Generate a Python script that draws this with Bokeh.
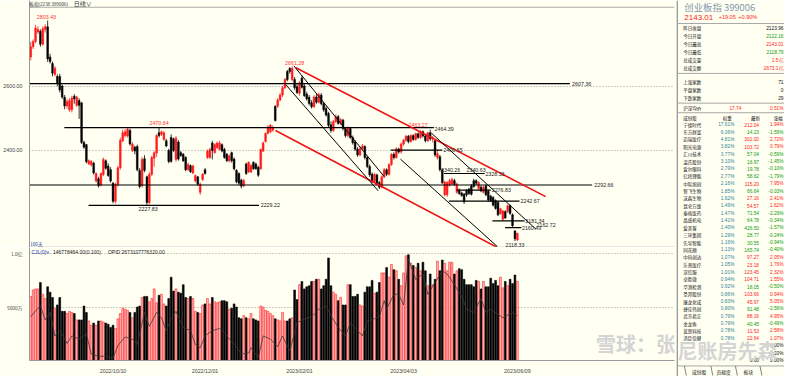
from bokeh.plotting import figure
from bokeh.layouts import row, column
from bokeh.models import ColumnDataSource, FixedTicker, Range1d, Label, Span
from bokeh.embed import file_html
from bokeh.resources import INLINE
from bokeh.core.properties import value

# ---------------- data ----------------
opens = [2690,2722,2738,2768,2770,2730,2776,2784,2690,2670,
         2636,2630,2630,2600,2565,2538,2526,2526,2568,2540,
         2555,2548,2425,2418,2358,2355,2360,2305,2312,2293,
         2325,2368,2352,2340,2298,2242,2294,2346,2430,2446,
         2445,2462,2400,2410,2412,2338,2290,2374,2318,2238,
         2326,2376,2392,2455,2450,2434,2430,2400,2440,2436,
         2372,2426,2393,2388,2378,2340,2353,2330,2305,2318,
         2270,2310,2340,2378,2378,2423,2393,2408,2403,2418,
         2403,2388,2368,2393,2373,2338,2328,2308,2290,2358,
         2333,2333,2363,2358,2348,2343,2398,2428,2453,2458,
         2463,2537,2537,2557,2572,2595,2645,2655,2620,2620,
         2598,2578,2625,2600,2575,2565,2548,2536,2566,2550,
         2572,2545,2530,2515,2480,2462,2490,2505,2484,2494,
         2468,2446,2468,2440,2426,2404,2386,2405,2412,2378,
         2350,2326,2304,2324,2300,2286,2318,2340,2326,2356,
         2388,2378,2404,2395,2420,2432,2444,2428,2446,2434,
         2452,2440,2458,2445,2430,2455,2436,2430,2378,2380,
         2340,2262,2262,2292,2296,2306,2270,2276,2268,2264,
         2276,2280,2290,2306,2306,2282,2286,2270,2290,2273,
         2258,2254,2244,2239,2204,2186,2210,2210,2228,2200,
         2150,2122.16]
highs = [2737,2745,2790,2786,2776,2786,2792,2803.43,2700,2676,
         2662,2636,2638,2605,2572,2560,2562,2570,2575,2570,
         2562,2550,2430,2420,2372,2370,2365,2332,2318,2332,
         2378,2372,2360,2348,2302,2300,2352,2440,2465,2466,
         2472,2468,2426,2415,2418,2345,2380,2385,2322,2332,
         2384,2398,2450,2470.64,2462,2460,2436,2405,2450,2440,
         2445,2432,2398,2392,2382,2362,2356,2356,2325,2320,
         2300,2330,2345,2403,2408,2430,2422,2428,2430,2422,
         2408,2392,2388,2396,2378,2342,2332,2312,2312,2362,
         2366,2358,2366,2362,2352,2406,2428,2456,2478,2482,
         2478,2540,2562,2578,2600,2625,2650,2658,2661.28,2628,
         2610,2615,2632,2606,2582,2572,2556,2572,2575,2580,
         2578,2550,2538,2520,2490,2495,2512,2510,2500,2498,
         2472,2475,2472,2446,2432,2410,2412,2420,2416,2382,
         2356,2332,2330,2328,2305,2322,2345,2344,2360,2392,
         2394,2410,2408,2425,2436,2448,2448,2450,2450,2455,
         2456,2463.27,2462,2450,2458,2464.39,2445,2434,2400,2386,
         2342,2306,2305,2312,2316,2312,2300,2282,2272,2268,
         2280,2284,2296,2312,2310,2304,2292,2290,2294,2278,
         2262,2258,2248,2242,2222,2216,2214,2232,2232,2204,
         2152,2143.01]
lows = [2680,2715,2733,2762,2722,2725,2766,2675,2670,2630,
        2630,2600,2580,2560,2528,2530,2520,2518,2545,2535,
        2498,2420,2405,2360,2355,2350,2325,2300,2285,2288,
        2320,2340,2318,2300,2236,2235,2288,2340,2425,2440,
        2440,2415,2395,2388,2335,2282,2285,2332,2227.83,2232,
        2320,2350,2380,2440,2445,2430,2410,2360,2362,2395,
        2365,2368,2380,2364,2335,2336,2330,2326,2300,2290,
        2262,2305,2325,2374,2374,2372,2390,2405,2400,2394,
        2374,2364,2362,2362,2338,2298,2292,2282,2286,2324,
        2330,2330,2340,2340,2318,2340,2395,2424,2450,2454,
        2458,2490,2532,2552,2566,2590,2615,2638,2615,2588,
        2575,2570,2592,2566,2555,2540,2530,2532,2545,2546,
        2540,2520,2505,2470,2455,2458,2485,2480,2478,2462,
        2440,2440,2436,2418,2398,2380,2382,2400,2372,2345,
        2318,2298,2300,2292,2280,2282,2314,2320,2322,2352,
        2372,2374,2390,2390,2414,2426,2422,2424,2430,2430,
        2436,2436,2440,2425,2426,2430,2425,2380,2372,2335,
        2296,2258,2256,2288,2292,2290,2266,2262,2256,2234,
        2256,2262,2260,2284,2292,2276,2270,2266,2258,2240,
        2240,2226,2216,2196,2200,2182,2188,2206,2200,2162,
        2118.33,2118.79]
closes = [2722,2738,2780,2776,2730,2778,2784,2684,2676,2640,
          2655,2610,2588,2566,2538,2552,2555,2563,2560,2566,
          2540,2425,2410,2365,2368,2366,2330,2328,2290,2328,
          2372,2345,2322,2305,2242,2294,2346,2432,2455,2458,
          2466,2420,2420,2398,2340,2288,2372,2338,2238,2326,
          2378,2393,2446,2446,2458,2455,2414,2366,2366,2400,
          2438,2373,2384,2368,2340,2356,2334,2352,2322,2295,
          2296,2326,2328,2398,2403,2400,2418,2423,2423,2398,
          2378,2368,2383,2368,2343,2303,2298,2289,2306,2328,
          2363,2353,2343,2343,2323,2403,2423,2453,2473,2478,
          2470,2493,2557,2572,2595,2620,2620,2645,2655,2595,
          2580,2610,2596,2570,2560,2546,2536,2566,2550,2574,
          2545,2526,2510,2478,2462,2490,2505,2484,2496,2468,
          2446,2470,2440,2424,2404,2386,2405,2414,2378,2350,
          2324,2304,2326,2298,2286,2318,2340,2326,2356,2388,
          2378,2405,2395,2420,2432,2444,2428,2446,2434,2452,
          2440,2458,2445,2430,2455,2436,2440,2386,2390,2340,
          2300,2302,2300,2306,2310,2294,2296,2266,2260,2240,
          2262,2266,2264,2288,2298,2300,2274,2286,2262,2246,
          2244,2230,2220,2200,2219,2212,2190,2228,2204,2166,
          2126,2143.01]
# volume, unit: 亿
volumes = [0.60,0.66,0.67,0.67,0.73,0.62,0.58,0.69,0.64,0.59,
           0.49,0.52,0.59,0.46,0.46,0.44,0.46,0.45,0.44,0.38,
           0.38,0.38,0.51,0.45,0.37,0.33,0.35,0.33,0.37,0.37,
           0.36,0.35,0.34,0.31,0.33,0.30,0.39,0.44,0.49,0.48,
           0.47,0.45,0.40,0.45,0.50,0.51,0.59,0.60,0.60,0.55,
           0.58,0.67,0.54,0.61,0.62,0.53,0.51,0.58,0.78,0.65,
           0.67,0.64,0.63,0.71,0.59,0.58,0.60,0.58,0.46,0.45,
           0.44,0.52,0.53,0.58,0.53,0.59,0.55,0.54,0.55,0.56,
           0.56,0.55,0.48,0.49,0.53,0.50,0.40,0.39,0.42,0.40,
           0.39,0.44,0.39,0.38,0.37,0.51,0.50,0.47,0.46,0.44,
           0.42,0.39,0.38,0.37,0.45,0.37,0.37,0.39,0.40,0.66,
           0.57,0.71,0.74,0.67,0.69,0.70,0.74,0.74,0.76,0.76,
           0.67,0.70,0.76,0.96,0.70,0.64,0.62,0.56,0.59,0.52,
           0.52,0.71,0.71,0.60,0.60,0.62,0.52,0.51,0.64,0.69,
           0.69,0.75,0.63,0.64,0.73,0.82,0.82,0.87,0.78,0.90,
           0.85,0.84,0.76,0.70,0.82,0.98,0.99,0.91,0.89,0.87,
           0.91,0.84,0.92,0.84,0.70,0.81,0.71,0.76,0.93,0.84,
           0.94,0.91,0.84,0.92,0.92,0.81,0.84,0.86,0.85,0.76,
           0.71,0.71,0.71,0.69,0.75,0.74,0.67,0.74,0.69,0.69,
           0.77,0.72,0.75,0.70,0.78,0.68,0.74,0.70,0.76,0.72,
           0.80,0.74]
# OPID indicator line read at sample bars (bar index, value in 亿)
opid_bars = [0,3,4,6,8,10,12,15,17,20,23,25,28,31,34,36,39,42,44,47,49,52,54,56,58,60,63,
             66,68,70,72,75,78,80,82,84,87,90,91,94,96,99,102,104,107,110,112,116,119,122,
             124,127,130,132,135,137,139,142,144,146,147,150,152,154,156,159,162,164,167,170,
             172,175,178,180,183,186,188,190,195,199,201]
opid_vals = [0.41,0.49,0.51,0.38,0.45,0.23,0.28,0.16,0.23,0.20,0.25,0.06,0.04,0.04,0.02,0.14,
             0.22,0.20,0.15,0.45,0.32,0.45,0.40,0.28,0.39,0.46,0.31,0.28,0.15,0.12,0.23,0.28,
             0.30,0.26,0.20,0.16,0.06,0.07,0.12,0.03,0.23,0.20,0.13,0.23,0.09,0.35,0.38,0.41,
             0.48,0.51,0.42,0.31,0.23,0.35,0.28,0.23,0.37,0.39,0.41,0.56,0.48,0.62,0.62,0.52,
             0.95,0.76,0.81,0.62,0.73,0.84,0.81,0.71,0.60,0.48,0.45,0.58,0.45,0.48,0.40,0.45,0.42]

date_ticks = [34, 72, 111, 154, 201]
date_labels = ["2022/10/10", "2022/12/01", "2023/02/01", "2023/04/03", "2023/06/09"]
price_ticks = [2400, 2600]
price_tick_labels = ["2400.00", "2600.00"]
vol_ticks = [0.5, 1.0]
vol_tick_labels = ["5000万", "1.0亿"]

# drawn support / resistance lines (price level, start bar, end bar)
level_prices = [2607.36, 2470.64, 2292.66, 2229.22, 2400.65, 2328.33, 2276.83, 2242.67, 2181.34, 2160.49]
level_start = [-0.5, 13.9, -0.5, 23.9, 148.7, 170.7, 175.9, 172.7, 190.7, 195.9]
level_end = [222.7, 166.5, 231.9, 94.3, 170.0, 187.5, 190.0, 201.9, 204.0, 202.7]
# trend channel lines (bar, price) -> (bar, price)
red_x0 = [109.5, 101.1]; red_y0 = [2656.7, 2462.0]
red_x1 = [212.7, 192.7]; red_y1 = [2256.7, 2098.5]
blk_x0 = [105.5, 108.7, 165.5, 152.7]; blk_y0 = [2603.0, 2662.7, 2453.7, 2373.0]
blk_x1 = [143.5, 145.9, 208.7, 192.7]; blk_y1 = [2274.6, 2319.4, 2155.2, 2101.5]

# quote panel
index_name = "创业板指"
index_code = "399006"
last_price = "2143.01"
change_abs = "+19.05"
change_pct = "+0.90%"
quote_labels = ["昨日收盘", "今日开盘", "今日最高", "今日最低", "总成交量", "总成交额"]
quote_values = ["2123.96", "2122.16", "2143.01", "2118.79", "1.5亿", "2673.1亿"]
breadth_labels = ["上涨家数", "平盘家数", "下跌家数"]
breadth_values = ["71", "0", "29"]
avg_label = "沪深均价"; avg_price = "17.74"; avg_pct = "0.51%"
stock_names = ["宁德时代","东方财富","迈瑞医疗","阳光电源","汇川技术","温氏股份","爱尔眼科","亿纬锂能",
               "中际旭创","智飞生物","沃森生物","昆仑万维","泰格医药","晶盛机电","爱美客","三环集团",
               "先导智能","同花顺","中科创达","乐普医疗","深信服","卓胜微","华测检测","圣邦股份",
               "康龙化成","捷佳伟创","北京君正","金龙鱼","蓝思科技","汤臣倍健","","",""]
stock_weights = ["17.61%","6.06%","4.81%","3.82%","3.77%","3.10%","2.79%","2.77%",
                 "2.16%","1.85%","1.62%","1.49%","1.47%","1.41%","1.40%","1.29%",
                 "1.16%","1.13%","1.07%","1.05%","1.01%","0.94%","0.92%","0.86%",
                 "0.83%","0.80%","0.79%","0.79%","0.78%","0.78%","","",""]
stock_prices = ["212.04","14.23","302.00","103.72","57.04","16.97","19.78","58.62",
                "115.20","66.64","27.16","54.57","71.54","64.78","426.50","28.77",
                "30.55","165.74","97.27","23.18","123.45","104.71","18.05","103.66",
                "45.97","91.48","88.16","40.45","11.53","22.64","","","0.00"]
stock_changes = [1.94,-1.59,2.72,0.79,-0.59,-1.45,-0.10,-1.79,
                 7.95,-0.03,2.41,1.62,-2.29,-0.34,-1.57,-0.24,
                 -0.94,-0.40,2.05,1.76,2.32,1.55,-0.50,0.94,
                 5.05,-2.56,4.95,-0.49,2.58,1.07,0.00,0.00,0.00]
tabs = ["成份股", "贡献度", "板块"]
watermark_left = "雪球：张"
watermark_right = "尼账房先森"

# ---------------- style ----------------
BG = "#fffff2"
UP = "#ff1a1a"
DN = "#000000"
GRN = "#119911"
TEAL = "#2f7f96"
NUM = "Liberation Sans"
CJK = "Noto Sans CJK SC"
GRID = "#9a9a9a"
WM = "#d4d4d4"
WM_SIZE = "20px"

n = len(closes)
xs = list(range(n))
is_up = [c >= o for o, c in zip(opens, closes)]
src = ColumnDataSource(dict(
    x=xs, h=highs, l=lows,
    top=[max(o, c) for o, c in zip(opens, closes)],
    bot=[min(o, c) for o, c in zip(opens, closes)],
    col=[UP if u else DN for u in is_up],
    vfill=["#ffc4c4" if u else DN for u in is_up],
    vol=volumes,
))

X0, X1 = -0.5, 265.9

# ---------------- price panel ----------------
p = figure(width=676, height=247, x_range=Range1d(X0, X1), y_range=Range1d(2098.5, 2865.7),
           output_backend="svg", toolbar_location=None, x_axis_location=None,
           min_border_left=22, min_border_right=2, min_border_top=0, min_border_bottom=0,
           background_fill_color=BG, border_fill_color=BG, outline_line_color=None)
p.yaxis.ticker = FixedTicker(ticks=price_ticks)
p.yaxis.major_label_overrides = {t: s for t, s in zip(price_ticks, price_tick_labels)}
p.yaxis.major_tick_line_color = None
p.yaxis.minor_tick_line_color = None
p.yaxis.axis_line_color = "#9a9a9a"
p.yaxis.major_label_text_font = NUM
p.yaxis.major_label_text_font_size = "5.3px"
p.yaxis.major_label_text_color = "#444444"
p.yaxis.major_label_standoff = 1
p.xgrid.visible = False
p.ygrid.ticker = FixedTicker(ticks=price_ticks)
p.ygrid.grid_line_color = GRID
p.ygrid.grid_line_dash = "1 2"

p.add_layout(Span(location=2844.8, dimension="width", line_color="#a8a8a8", line_width=1))
p.add_layout(Span(location=2099.3, dimension="width", line_color="#a8a8a8", line_width=1))

p.segment(x0="x", y0="h", x1="x", y1="l", color="col", line_width=0.8, source=src)
p.vbar(x="x", top="top", bottom="bot", width=0.72, fill_color="col", line_color="col",
       line_width=0.5, source=src)

p.segment(x0=level_start, y0=level_prices, x1=level_end, y1=level_prices,
          line_color="black", line_width=1.2)
p.segment(x0=red_x0, y0=red_y0, x1=red_x1, y1=red_y1, line_color="#ee1111", line_width=1.5)
p.segment(x0=blk_x0, y0=blk_y0, x1=blk_x1, y1=blk_y1, line_color="black", line_width=1.0)

def lab(fig, text, x, y, align="left", base="middle", color="#222222", size="5.3px", font=NUM, style="normal"):
    fig.add_layout(Label(x=x, y=y, text=text, text_align=align, text_baseline=base,
                         text_color=color, text_font_size=size, text_font=font,
                         text_font_style=style))

lab(p, "2607.36", 223.6, 2607.36)
lab(p, "2292.66", 232.8, 2292.66)
lab(p, "2229.22", 95.0, 2229.22)
lab(p, "2227.83", 48.5, 2223, "center", "top")
lab(p, "2470.64", 53.0, 2479, "center", "bottom", "#ff3333")
lab(p, "2803.43", 6.5, 2808, "center", "bottom", "#ff3333")
lab(p, "2661.28", 109.0, 2666, "center", "bottom", "#ff3333")
lab(p, "2463.27", 160.0, 2474, "center", "bottom", "#ff3333")
lab(p, "2464.39", 166.8, 2466)
lab(p, "2400.65", 170.5, 2402)
lab(p, "2340.26", 169.5, 2340)
lab(p, "2340.63", 180.0, 2340)
lab(p, "2328.33", 187.8, 2328.33)
lab(p, "2276.83", 190.4, 2276.83)
lab(p, "2242.67", 202.3, 2242.67)
lab(p, "2181.34", 204.3, 2181.34)
lab(p, "2160.49", 202.9, 2160.49)
lab(p, "2162.72", 208.9, 2168)
lab(p, "2118.33", 200.0, 2113, "center", "top")

# header
lab(p, "◇◇ " + index_name + "(2238 " + index_code + ")", -8.6, 2856, "left", "middle", "#333333", "4.6px", CJK)
lab(p, "日线∨", 17.8, 2856, "left", "middle", "#333333", "6px", CJK)
lab(p, "100天", -0.2, 2110, "left", "middle", "#2233aa", "4.6px", CJK)

# ---------------- volume panel ----------------
v = figure(width=676, height=129, x_range=p.x_range, y_range=Range1d(0, 1.058),
           output_backend="svg", toolbar_location=None,
           min_border_left=22, min_border_right=2, min_border_top=0, min_border_bottom=8,
           background_fill_color=BG, border_fill_color=BG, outline_line_color=None)
v.yaxis.ticker = FixedTicker(ticks=vol_ticks)
v.yaxis.major_label_overrides = {t: s for t, s in zip(vol_ticks, vol_tick_labels)}
v.yaxis.major_tick_line_color = None
v.yaxis.minor_tick_line_color = None
v.yaxis.axis_line_color = "#9a9a9a"
v.yaxis.major_label_text_font = CJK
v.yaxis.major_label_text_font_size = "4.8px"
v.yaxis.major_label_text_color = "#444444"
v.yaxis.major_label_standoff = 1
v.xaxis.ticker = FixedTicker(ticks=date_ticks)
v.xaxis.major_label_overrides = {t: s for t, s in zip(date_ticks, date_labels)}
v.xaxis.major_tick_line_color = None
v.xaxis.minor_tick_line_color = None
v.xaxis.axis_line_color = "#9a9a9a"
v.xaxis.major_label_text_font = NUM
v.xaxis.major_label_text_font_size = "5.3px"
v.xaxis.major_label_text_color = "#444444"
v.xaxis.major_label_standoff = 1
v.xgrid.visible = False
v.ygrid.ticker = FixedTicker(ticks=vol_ticks)
v.ygrid.grid_line_color = GRID
v.ygrid.grid_line_dash = "1 2"

v.vbar(x="x", top="vol", bottom=0, width=0.74, fill_color="vfill", line_color="col",
       line_width=0.6, source=src)
v.line(x=opid_bars, y=opid_vals, line_color="#3a3a3a", line_width=0.8)

lab(v, "CJL(0)∨", 0.3, 1.018, "left", "middle", "#2233aa", "5px")
lab(v, "146778464.00(0.100)", 9.2, 1.018, "left", "middle", "#222222", "5px")
lab(v, "OPID 2673107776320.00", 31.9, 1.018, "left", "middle", "#222222", "5px")

# watermark (left part)
lab(v, watermark_left, 233.5, 0.16, "left", "middle", WM, WM_SIZE, CJK, "bold")

# ---------------- info panel ----------------
q = figure(width=108, height=376, x_range=Range1d(0, 110), y_range=Range1d(392, 0),
           output_backend="svg", toolbar_location=None, x_axis_location=None, y_axis_location=None,
           min_border=0, background_fill_color=BG, border_fill_color=BG, outline_line_color=None)
q.grid.visible = False

q.segment(x0=[0.6], y0=[0], x1=[0.6], y1=[392], line_color="#555555", line_width=1)
sep_y = [24, 76, 107, 117, 381]
q.segment(x0=[0.6] * len(sep_y), y0=sep_y, x1=[110] * len(sep_y), y1=sep_y, line_color="#a8a8a8", line_width=1)

def qtext(xv, yv, texts, colors, size, align="left", font=CJK):
    q.text(x=xv, y=yv, text=texts, text_color=colors, text_font=value(font),
           text_font_size=value(size), text_align=align, text_baseline="middle")

qtext([8], [6.5], [index_name + " " + index_code], ["#8496ab"], "9.4px")
qtext([8], [17.5], [last_price], [UP], "8px", font=NUM)
qtext([43], [17.5], [change_abs], [UP], "5.5px", font=NUM)
qtext([63], [17.5], [change_pct], [UP], "5.5px", font=NUM)

prev_close = float(quote_values[0])
def qcolor(i, s):
    if i == 0:
        return "#111111"
    if i >= 4:
        return UP
    return UP if float(s) > prev_close else GRN

q_rows = [28.5 + 8.4 * i for i in range(len(quote_labels))]
qtext([7] * len(quote_labels), q_rows, quote_labels, ["#111111"] * len(quote_labels), "4.5px")
qtext([109] * len(quote_values), q_rows, quote_values,
      [qcolor(i, s) for i, s in enumerate(quote_values)], "4.8px", "right", NUM)

b_rows = [85 + 8.5 * i for i in range(len(breadth_labels))]
qtext([7] * 3, b_rows, breadth_labels, ["#111111"] * 3, "4.5px")
qtext([109] * 3, b_rows, breadth_values, ["#111111"] * 3, "4.8px", "right", NUM)

qtext([7], [112.5], [avg_label], ["#111111"], "4.5px")
qtext([60], [112.5], [avg_price], [UP], "4.8px", "center", NUM)
qtext([109], [112.5], [avg_pct], [UP], "4.8px", "right", NUM)

qtext([7, 47, 76, 99], [122.5] * 4, ["成份股", "权重", "最新", "涨幅"], ["#111111"] * 4, "4.5px", "left")

s_rows = [129.5 + 7.68 * i for i in range(len(stock_names))]
ns = len(stock_names)
s_cols = [UP if c > 0 else (GRN if c < 0 else "#111111") for c in stock_changes]
qtext([7] * ns, s_rows, stock_names, ["#111111"] * ns, "4.5px")
qtext([59] * ns, s_rows, stock_weights, [TEAL] * ns, "4.8px", "right", NUM)
qtext([84] * ns, s_rows, stock_prices, s_cols, "4.8px", "right", NUM)
qtext([109] * ns, s_rows, ["%.2f%%" % c for c in stock_changes], s_cols, "4.8px", "right", NUM)

tab_x = [23, 48, 73]
qtext(tab_x, [386.5] * 3, tabs, ["#111111"] * 3, "4.8px", "center")
q.segment(x0=[8, 35, 60, 85], y0=[381] * 4, x1=[10, 37, 62, 87], y1=[391] * 4, line_color="#666666", line_width=0.8)

# watermark (right part)
q.text(x=[1], y=[365], text=[watermark_right], text_color=WM, text_font=value(CJK),
       text_font_size=value(WM_SIZE), text_font_style="bold", text_align="left", text_baseline="middle")

layout = row(column(p, v), q)
open("out.html", "w").write(file_html(layout, INLINE))
